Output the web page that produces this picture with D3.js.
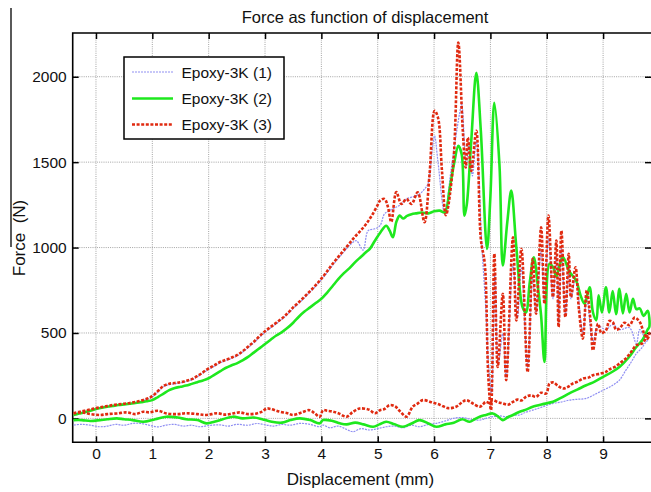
<!DOCTYPE html>
<html><head><meta charset="utf-8">
<script src="https://cdn.jsdelivr.net/npm/d3@7"></script>
<style>body{margin:0;background:#fff}svg{display:block}text{font-family:"Liberation Sans",Arial,Helvetica,sans-serif;fill:#111}</style>
</head><body><svg id="c" width="651" height="492"></svg>
<script>
const chartTitle = "Force as function of displacement";
const xLabel = "Displacement (mm)";
const yLabel = "Force\u00a0 (N)";
const seriesNames = ["Epoxy-3K (1)", "Epoxy-3K (2)", "Epoxy-3K (3)"];
const xTicks = [0, 1, 2, 3, 4, 5, 6, 7, 8, 9];
const yTicks = [0, 500, 1000, 1500, 2000];
const xDomain = [-0.413, 9.85];
const yDomain = [-140, 2256];

// Epoxy-3K (1): loading then return path [displacement mm, force N]
const epoxy1Load = [[-0.4,25],[-0.3,33],[-0.2,40],[-0.1,47],[0,55],[0.1,61],[0.2,67],[0.3,73],[0.4,77],[0.5,81],[0.6,86],[0.7,92],[0.8,100],[0.9,111],[1.0,126],[1.1,155],[1.2,186],[1.3,198],[1.4,203],[1.5,208],[1.6,216],[1.7,226],[1.8,244],[1.9,266],[2.0,288],[2.1,305],[2.2,325],[2.3,338],[2.4,350],[2.5,365],[2.6,387],[2.7,414],[2.8,442],[2.9,474],[3.0,504],[3.1,530],[3.2,554],[3.3,580],[3.4,610],[3.5,644],[3.6,674],[3.7,706],[3.8,740],[3.9,774],[4.0,812],[4.1,852],[4.2,896],[4.3,936],[4.4,975],[4.5,1012],[4.62,1040],[4.74,985],[4.83,1099],[4.95,1110],[5.04,1128],[5.12,1197],[5.2,1215],[5.3,1232],[5.4,1250],[5.51,1284],[5.6,1295],[5.74,1313],[5.83,1342],[5.89,1372],[5.98,1605],[6.01,1654],[6.07,1500],[6.19,1197],[6.3,1450],[6.45,1780],[6.49,1838],[6.57,1469],[6.62,1600],[6.68,1420],[6.75,1620],[6.85,1000],[6.92,632],[6.97,300],[7.02,150],[7.08,850],[7.14,320],[7.22,496],[7.28,240],[7.4,900],[7.48,593],[7.55,880],[7.66,300],[7.75,820],[7.81,620],[7.9,980],[7.96,680],[8.03,1050],[8.11,700],[8.17,950],[8.21,560],[8.26,1000],[8.33,600],[8.39,900],[8.43,700],[8.51,820],[8.64,500],[8.71,700],[8.82,450],[8.91,540],[9.05,520],[9.17,550],[9.29,520],[9.47,530],[9.59,438],[9.65,520],[9.73,480],[9.8,460]];
const epoxy1Return = [[9.8,460],[9.76,447],[9.68,410],[9.59,379],[9.5,330],[9.4,280],[9.29,224],[9.15,190],[9.0,165],[8.85,140],[8.7,117],[8.55,112],[8.4,107],[8.25,95],[8.11,88],[7.93,68],[7.75,48],[7.62,35],[7.52,20],[7.4,18],[7.28,10],[7.15,15],[7.04,10],[6.92,0],[6.81,-10],[6.65,-5],[6.5,5],[6.34,0],[6.2,-15],[6.04,-29],[5.9,-35],[5.74,-49],[5.6,-40],[5.45,-55],[5.3,-45],[5.15,-49],[5.0,-60],[4.86,-68],[4.7,-60],[4.56,-78],[4.45,-65],[4.3,-45],[4.15,-55],[4.03,-39],[3.97,-49],[3.8,-35],[3.62,-29],[3.45,-40],[3.3,-35],[3.15,-45],[3.03,-39],[2.85,-30],[2.7,-40],[2.5,-35],[2.35,-45],[2.2,-38],[2.0,-42],[1.84,-49],[1.7,-40],[1.55,-45],[1.4,-35],[1.25,-39],[1.1,-50],[0.95,-40],[0.8,-30],[0.66,-29],[0.5,-40],[0.35,-35],[0.2,-45],[0.07,-49],[-0.1,-40],[-0.25,-35],[-0.4,-39]];

// Epoxy-3K (2)
const epoxy2Load = [[-0.4,20],[-0.3,28],[-0.2,36],[-0.1,45],[0,55],[0.1,62],[0.2,68],[0.3,73],[0.4,78],[0.5,82],[0.6,86],[0.7,90],[0.8,95],[0.9,100],[1.0,107],[1.1,125],[1.2,145],[1.3,165],[1.4,178],[1.5,185],[1.6,192],[1.7,202],[1.8,212],[1.9,222],[2.0,235],[2.1,255],[2.2,275],[2.3,295],[2.4,310],[2.5,322],[2.6,340],[2.7,360],[2.8,385],[2.9,410],[3.0,435],[3.1,460],[3.2,485],[3.3,505],[3.4,530],[3.5,560],[3.6,595],[3.7,625],[3.8,650],[3.9,675],[4.0,700],[4.1,735],[4.2,775],[4.3,815],[4.4,850],[4.5,880],[4.6,915],[4.7,945],[4.8,975],[4.86,992],[4.95,1040],[5.05,1090],[5.15,1128],[5.21,1100],[5.27,1060],[5.33,1150],[5.39,1187],[5.45,1170],[5.52,1185],[5.6,1195],[5.68,1200],[5.78,1205],[5.9,1200],[6.0,1212],[6.1,1216],[6.19,1206],[6.28,1352],[6.36,1500],[6.43,1595],[6.49,1547],[6.54,1187],[6.58,1250],[6.66,1624],[6.75,2023],[6.83,1683],[6.94,992],[7.0,1300],[7.07,1848],[7.16,1488],[7.22,895],[7.3,1150],[7.37,1333],[7.46,1002],[7.57,651],[7.63,620],[7.7,800],[7.77,943],[7.85,750],[7.9,600],[7.96,330],[8.05,905],[8.12,880],[8.17,830],[8.23,900],[8.29,943],[8.4,860],[8.52,807],[8.6,720],[8.67,671],[8.76,768],[8.82,620],[8.88,574],[8.92,720],[8.98,620],[9.05,768],[9.11,620],[9.17,745],[9.23,610],[9.29,759],[9.35,615],[9.41,730],[9.47,620],[9.53,700],[9.59,640],[9.65,644],[9.72,600],[9.79,630],[9.82,535]];
const epoxy2Return = [[9.82,535],[9.79,520],[9.7,460],[9.59,418],[9.45,355],[9.29,301],[9.15,270],[9.0,243],[8.85,215],[8.7,194],[8.55,170],[8.4,146],[8.25,120],[8.11,97],[7.95,85],[7.75,68],[7.62,50],[7.52,39],[7.4,20],[7.3,5],[7.22,-10],[7.12,15],[7.04,29],[6.92,20],[6.81,10],[6.72,-5],[6.63,-20],[6.5,-5],[6.35,-25],[6.2,-35],[6.04,-49],[5.9,-30],[5.74,-10],[5.6,-30],[5.45,-49],[5.3,-35],[5.15,-20],[5.03,-35],[4.92,-49],[4.75,-35],[4.6,-25],[4.45,-35],[4.33,-29],[4.2,-15],[4.03,-10],[3.97,-29],[3.8,-10],[3.62,0],[3.45,-10],[3.3,-25],[3.12,-20],[2.95,-5],[2.8,5],[2.6,0],[2.43,10],[2.25,-5],[2.1,-20],[1.96,-29],[1.8,-10],[1.6,-5],[1.45,5],[1.25,10],[1.05,-5],[0.84,-20],[0.65,-10],[0.5,-5],[0.37,0],[0.2,-5],[0.07,-10],[-0.1,-15],[-0.25,-10],[-0.4,-10]];

// Epoxy-3K (3)
const epoxy3Load = [[-0.4,30],[-0.3,38],[-0.2,45],[-0.1,52],[0,60],[0.1,66],[0.2,72],[0.3,78],[0.4,82],[0.5,86],[0.6,90],[0.7,96],[0.8,104],[0.9,115],[1.0,130],[1.1,160],[1.2,190],[1.3,203],[1.4,207],[1.5,212],[1.6,220],[1.7,230],[1.8,248],[1.9,270],[2.0,293],[2.1,310],[2.2,330],[2.3,342],[2.4,355],[2.5,370],[2.6,392],[2.7,420],[2.8,448],[2.9,480],[3.0,510],[3.1,535],[3.2,560],[3.3,585],[3.4,615],[3.5,650],[3.6,680],[3.7,712],[3.8,745],[3.9,780],[4.0,818],[4.1,860],[4.2,905],[4.3,945],[4.4,985],[4.5,1025],[4.6,1065],[4.7,1100],[4.8,1140],[4.9,1190],[5.0,1250],[5.04,1274],[5.12,1285],[5.18,1240],[5.24,1150],[5.33,1325],[5.42,1255],[5.51,1284],[5.6,1255],[5.71,1323],[5.83,1148],[5.92,1430],[6.01,1800],[6.07,1760],[6.14,1450],[6.21,1190],[6.34,1488],[6.43,2200],[6.51,1683],[6.56,1469],[6.6,1644],[6.66,1449],[6.75,1683],[6.83,1050],[6.9,905],[6.96,263],[7.01,48],[7.07,963],[7.13,301],[7.22,730],[7.28,224],[7.4,1060],[7.46,574],[7.55,992],[7.66,272],[7.75,934],[7.81,613],[7.9,1118],[7.96,671],[8.03,1187],[8.11,710],[8.17,1041],[8.21,535],[8.26,1099],[8.33,593],[8.39,963],[8.43,710],[8.51,885],[8.57,640],[8.64,467],[8.71,749],[8.78,560],[8.82,399],[8.91,554],[8.97,500],[9.05,515],[9.11,570],[9.17,564],[9.23,520],[9.29,525],[9.38,560],[9.47,545],[9.56,590],[9.65,564],[9.73,496],[9.79,467],[9.82,500]];
const epoxy3Return = [[9.82,500],[9.76,470],[9.7,440],[9.59,428],[9.5,390],[9.4,350],[9.29,321],[9.2,300],[9.1,285],[9.05,272],[8.95,262],[8.82,253],[8.75,240],[8.64,233],[8.55,215],[8.46,204],[8.38,185],[8.29,175],[8.2,190],[8.12,210],[8.05,204],[7.99,146],[7.9,150],[7.81,126],[7.72,135],[7.63,126],[7.55,105],[7.48,110],[7.4,97],[7.31,80],[7.22,88],[7.13,95],[7.04,107],[6.98,90],[6.92,97],[6.86,80],[6.81,68],[6.7,85],[6.57,107],[6.48,90],[6.39,68],[6.25,60],[6.1,80],[5.95,95],[5.8,107],[5.7,85],[5.62,68],[5.51,10],[5.4,40],[5.31,70],[5.21,78],[5.12,55],[5.04,48],[4.95,30],[4.85,50],[4.68,58],[4.55,35],[4.45,10],[4.3,30],[4.2,40],[4.1,45],[4.03,48],[3.97,10],[3.88,30],[3.79,48],[3.65,35],[3.5,20],[3.4,30],[3.25,40],[3.1,55],[3.03,58],[2.95,40],[2.85,29],[2.7,25],[2.55,35],[2.43,29],[2.3,22],[2.15,30],[1.96,20],[1.8,25],[1.6,30],[1.45,25],[1.25,29],[1.1,45],[0.95,35],[0.84,39],[0.7,25],[0.55,35],[0.37,29],[0.2,25],[0.07,20],[-0.1,25],[-0.25,35],[-0.4,29]];

const svg = d3.select("#c");
const L = 72.7, R = 651, T = 33, B = 442.3;
const x = d3.scaleLinear().domain(xDomain).range([L, R]);
const y = d3.scaleLinear().domain(yDomain).range([B, T]);

// stray crop line at left
svg.append("line").attr("x1", 11).attr("x2", 11).attr("y1", 8).attr("y2", 247)
  .attr("stroke", "#000").attr("stroke-width", 1.3);

// grid
const grid = svg.append("g").attr("stroke", "#9a9a9a").attr("stroke-width", 0.9).attr("stroke-dasharray", "1,1.2");
xTicks.forEach(t => grid.append("line").attr("x1", x(t)).attr("x2", x(t)).attr("y1", T).attr("y2", B));
yTicks.forEach(t => grid.append("line").attr("x1", L).attr("x2", R).attr("y1", y(t)).attr("y2", y(t)));

// axes via d3 axes with inward ticks
const axB = svg.append("g").attr("transform", `translate(0,${B})`)
  .call(d3.axisBottom(x).tickValues(xTicks).tickSizeInner(-6).tickSizeOuter(0).tickPadding(6).tickFormat(d3.format("d")));
const axT = svg.append("g").attr("transform", `translate(0,${T})`)
  .call(d3.axisTop(x).tickValues(xTicks).tickSizeInner(-6).tickSizeOuter(0).tickFormat(""));
const axL = svg.append("g").attr("transform", `translate(${L},0)`)
  .call(d3.axisLeft(y).tickValues(yTicks).tickSizeInner(-6).tickSizeOuter(0).tickPadding(6).tickFormat(d3.format("d")));
const axR = svg.append("g").attr("transform", `translate(${R},0)`)
  .call(d3.axisRight(y).tickValues(yTicks).tickSizeInner(-6).tickSizeOuter(0).tickFormat(""));
[axB, axT, axL, axR].forEach(g => {
  g.select(".domain").remove();
  g.selectAll(".tick line").attr("stroke", "#000").attr("stroke-width", 1.5);
  g.selectAll("text").attr("font-size", "15.5px").attr("fill", "#111")
    .style("font-family", '"Liberation Sans", Arial, sans-serif');
});
axB.selectAll("text").attr("dy", "0.71em");

// frame (left, top, bottom)
svg.append("path").attr("d", `M${R},${T}H${L}V${B}H${R}`).attr("fill", "none")
  .attr("stroke", "#000").attr("stroke-width", 1.6);

svg.append("clipPath").attr("id", "clip").append("rect")
  .attr("x", L).attr("y", T).attr("width", R - L).attr("height", B - T);

const line = d3.line().x(d => x(d[0])).y(d => y(d[1])).curve(d3.curveCatmullRom.alpha(0.5));
const styles = [
  {color: "#8f8ff2", width: 1.2, dash: "2,1"},
  {color: "#1ee81e", width: 2.6, dash: null},
  {color: "#e02a10", width: 2.6, dash: "3,1.6"}
];
const seriesData = [
  epoxy1Load.concat(epoxy1Return.slice(1)),
  epoxy2Load.concat(epoxy2Return.slice(1)),
  epoxy3Load.concat(epoxy3Return.slice(1))
];
const plot = svg.append("g").attr("clip-path", "url(#clip)");
seriesData.forEach((d, i) => {
  const p = plot.append("path").datum(d).attr("d", line).attr("fill", "none")
    .attr("stroke", styles[i].color).attr("stroke-width", styles[i].width)
    .attr("stroke-linejoin", "round");
  if (styles[i].dash) p.attr("stroke-dasharray", styles[i].dash);
});

// legend
const lg = svg.append("g");
lg.append("rect").attr("x", 124).attr("y", 57).attr("width", 160).attr("height", 82)
  .attr("fill", "#fff").attr("stroke", "#000").attr("stroke-width", 1.5);
const rowY = [72, 98.5, 124.5];
seriesNames.forEach((n, i) => {
  const l = lg.append("line").attr("x1", 132).attr("x2", 173).attr("y1", rowY[i]).attr("y2", rowY[i])
    .attr("stroke", styles[i].color).attr("stroke-width", styles[i].width);
  if (styles[i].dash) l.attr("stroke-dasharray", styles[i].dash);
  lg.append("text").attr("x", 181.5).attr("y", rowY[i]).attr("dy", "0.36em")
    .attr("font-size", "15.5px").text(n);
});

// titles
svg.append("text").attr("x", 365).attr("y", 23).attr("text-anchor", "middle")
  .attr("font-size", "16.5px").text(chartTitle);
svg.append("text").attr("x", 360.5).attr("y", 485).attr("text-anchor", "middle")
  .attr("font-size", "17px").text(xLabel);
svg.append("text").attr("transform", "translate(24.5,238) rotate(-90)").attr("text-anchor", "middle")
  .attr("font-size", "17px").text(yLabel);
</script></body></html>
